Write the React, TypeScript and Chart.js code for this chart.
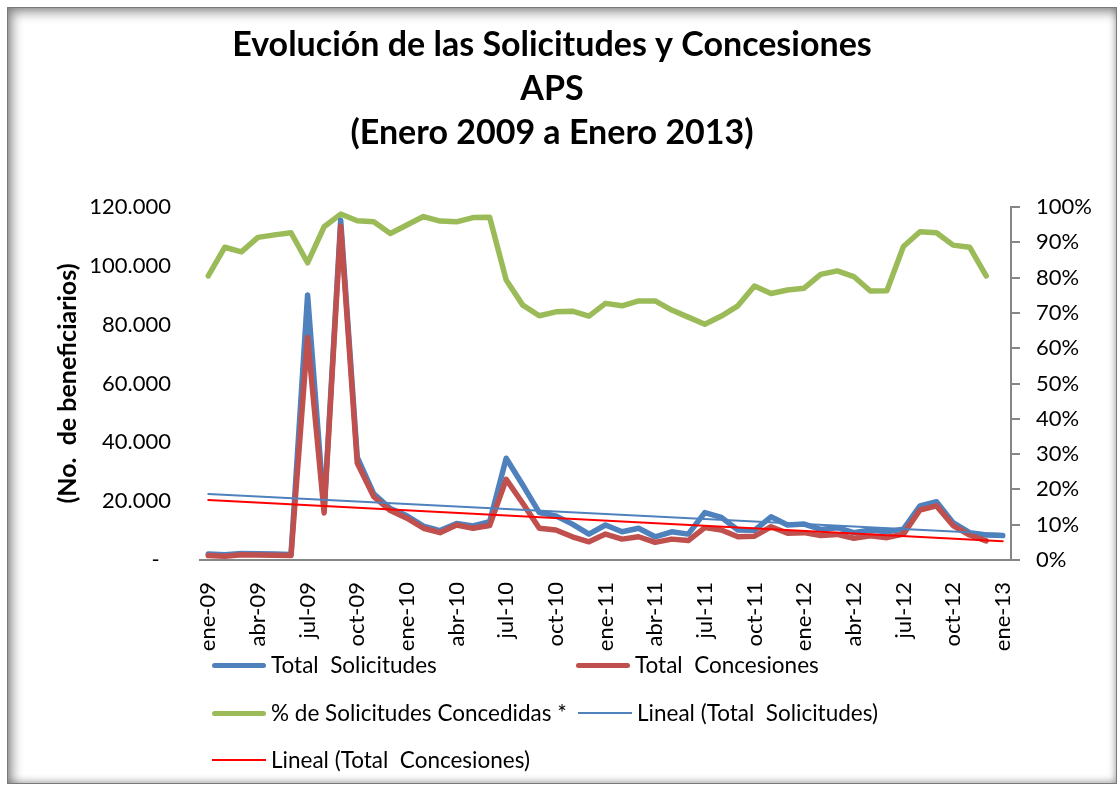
import React, { useEffect, useRef } from 'react';
import { Chart, registerables } from 'chart.js';

Chart.register(...registerables);

const categories = [
  'ene-09', 'feb-09', 'mar-09', 'abr-09', 'may-09', 'jun-09', 'jul-09', 'ago-09', 'sep-09', 'oct-09', 'nov-09', 'dic-09',
  'ene-10', 'feb-10', 'mar-10', 'abr-10', 'may-10', 'jun-10', 'jul-10', 'ago-10', 'sep-10', 'oct-10', 'nov-10', 'dic-10',
  'ene-11', 'feb-11', 'mar-11', 'abr-11', 'may-11', 'jun-11', 'jul-11', 'ago-11', 'sep-11', 'oct-11', 'nov-11', 'dic-11',
  'ene-12', 'feb-12', 'mar-12', 'abr-12', 'may-12', 'jun-12', 'jul-12', 'ago-12', 'sep-12', 'oct-12', 'nov-12', 'dic-12',
  'ene-13',
];

const totalSolicitudes = [
  2000, 1800, 2200, 2100, 2000, 1900, 90100, 17000, 115500, 35000, 22500, 17500,
  15000, 11500, 10000, 12400, 11600, 13000, 34600, 25500, 16100, 15000, 12200, 8800,
  11900, 9600, 10800, 7900, 9600, 8800, 16100, 14500, 10200, 10100, 14700, 11900,
  12200, 10400, 11000, 9300, 10200, 9600, 10500, 18400, 19800, 12700, 9300, 8500,
  8300,
];

const totalConcesiones = [
  1500, 1300, 1800, 1700, 1600, 1500, 75600, 16000, 113500, 33000, 21500, 16800,
  14200, 10800, 9300, 11900, 10800, 11700, 27400, 19300, 10800, 10200, 7900, 6200,
  8800, 7100, 7900, 6000, 7100, 6600, 11000, 10200, 7900, 8100, 11300, 9100,
  9300, 8300, 8700, 7400, 8200, 7600, 8800, 17000, 18400, 11700, 8500, 6500,
  null,
];

const porcentajeConcedidas = [
  80.5, 88.6, 87.3, 91.4, 92.1, 92.7, 84.2, 94.4, 98.0, 96.1, 95.8, 92.5,
  94.9, 97.3, 96.0, 95.8, 97.0, 97.1, 79.3, 72.2, 69.2, 70.3, 70.5, 69.1,
  72.7, 72.0, 73.4, 73.4, 70.8, 68.8, 66.8, 69.1, 72.0, 77.6, 75.5, 76.5,
  77.0, 80.9, 81.9, 80.3, 76.2, 76.3, 88.8, 93.0, 92.7, 89.2, 88.6, 80.5,
];

// Linear trend lines: start and end values
const trendSolicitudesEnds = [22400, 8800];
const trendConcesionesEnds = [20400, 6400];

const leftTicks = { min: 0, max: 120000, step: 20000 };
const rightTicks = { min: 0, max: 100, step: 10 };

const titleLines = ['Evolución de las Solicitudes y Concesiones', 'APS', '(Enero 2009 a Enero 2013)'];

const BLUE = '#4F81BD';
const RED = '#C0504D';
const GREEN = '#9BBB59';
const TREND_RED = '#FF0000';

function endsToSeries(ends: number[], n: number): (number | null)[] {
  const arr: (number | null)[] = new Array(n).fill(null);
  arr[0] = ends[0];
  arr[n - 1] = ends[1];
  return arr;
}

function fmtThousands(v: number): string {
  if (v === 0) return '-  ';
  return String(v).replace(/\B(?=(\d{3})+(?!\d))/g, '.');
}

const legendItems = [
  { label: 'Total  Solicitudes', color: BLUE, thick: true, left: 204, top: 657 },
  { label: 'Total  Concesiones', color: RED, thick: true, left: 568, top: 657 },
  { label: '% de Solicitudes Concedidas *', color: GREEN, thick: true, left: 204, top: 705 },
  { label: 'Lineal (Total  Solicitudes)', color: BLUE, thick: false, left: 570, top: 705 },
  { label: 'Lineal (Total  Concesiones)', color: TREND_RED, thick: false, left: 204, top: 752 },
];

export default function App() {
  const ref = useRef<HTMLCanvasElement>(null);

  useEffect(() => {
    Chart.defaults.font.family = 'Lato';
    Chart.defaults.color = '#000';
    const n = categories.length;
    const lineCommon = {
      pointRadius: 0,
      pointHoverRadius: 0,
      tension: 0,
      borderJoinStyle: 'round' as const,
      borderCapStyle: 'round' as const,
      fill: false,
    };
    const chart = new Chart(ref.current!, {
      type: 'line',
      data: {
        labels: categories,
        datasets: [
          { ...lineCommon, label: 'Total  Solicitudes', data: totalSolicitudes, borderColor: BLUE, backgroundColor: BLUE, borderWidth: 5.5, yAxisID: 'y', order: 4 },
          { ...lineCommon, label: 'Total  Concesiones', data: totalConcesiones, borderColor: RED, backgroundColor: RED, borderWidth: 5.5, yAxisID: 'y', order: 3 },
          { ...lineCommon, label: '% de Solicitudes Concedidas *', data: porcentajeConcedidas, borderColor: GREEN, backgroundColor: GREEN, borderWidth: 5.5, yAxisID: 'y1', order: 5 },
          { ...lineCommon, label: 'Lineal (Total  Solicitudes)', data: endsToSeries(trendSolicitudesEnds, n), borderColor: BLUE, backgroundColor: BLUE, borderWidth: 2, spanGaps: true, yAxisID: 'y', order: 2 },
          { ...lineCommon, label: 'Lineal (Total  Concesiones)', data: endsToSeries(trendConcesionesEnds, n), borderColor: TREND_RED, backgroundColor: TREND_RED, borderWidth: 2, spanGaps: true, yAxisID: 'y', order: 1 },
        ],
      },
      options: {
        animation: false,
        responsive: false,
        devicePixelRatio: 1,
        layout: { padding: { left: 0, right: 20, top: 0, bottom: 123 } },
        plugins: {
          legend: { display: false },
          tooltip: { enabled: false },
          title: {
            display: true,
            text: titleLines,
            color: '#000',
            font: { size: 34, weight: 'bold', lineHeight: 44 / 34 },
            padding: { top: 15, bottom: 52 },
          },
        },
        scales: {
          x: {
            type: 'category',
            offset: true,
            grid: { display: false },
            border: { display: true, color: '#868686', width: 2 },
            ticks: {
              autoSkip: false,
              minRotation: 90,
              maxRotation: 90,
              padding: 14,
              font: { size: 22 },
              color: '#000',
              callback: (_v: any, i: number) => (i % 3 === 0 ? categories[i] : ''),
            },
            afterFit: (s: any) => { s.height = 100; },
          },
          y: {
            position: 'left',
            min: leftTicks.min,
            max: leftTicks.max,
            grid: { display: false },
            border: { display: false },
            ticks: {
              stepSize: leftTicks.step,
              padding: 21,
              font: { size: 22 },
              color: '#000',
              callback: (v: any) => fmtThousands(Number(v)),
            },
            title: {
              display: true,
              text: '(No.  de beneficiarios)',
              color: '#000',
              font: { size: 25, weight: 'bold' },
              padding: { top: 45, bottom: 0 },
            },
            afterFit: (s: any) => { s.width = 192; },
          },
          y1: {
            position: 'right',
            min: rightTicks.min,
            max: rightTicks.max,
            grid: { display: true, drawOnChartArea: false, drawTicks: true, tickLength: 9, color: '#868686', lineWidth: 2 },
            border: { display: true, color: '#868686', width: 2 },
            ticks: {
              stepSize: rightTicks.step,
              padding: 16,
              font: { size: 22 },
              color: '#000',
              callback: (v: any) => `${v}%`,
            },
            afterFit: (s: any) => { s.width = 85; },
          },
        },
      },
    });
    return () => chart.destroy();
  }, []);

  return (
    <div
      style={{
        position: 'absolute',
        left: 7,
        top: 7,
        width: 1110,
        height: 777,
        boxSizing: 'border-box',
        border: '1px solid #7a7a7a',
        background: '#fff',
        boxShadow: 'inset 4px 4px 12px rgba(0,0,0,0.45), inset -1px -2px 6px rgba(0,0,0,0.2)',
        fontFamily: 'Lato, sans-serif',
      }}
    >
      <canvas ref={ref} width={1108} height={775} style={{ position: 'absolute', left: 0, top: 0, width: 1108, height: 775 }} />
      {legendItems.map((it) => (
        <div
          key={it.label}
          style={{ position: 'absolute', left: it.left, top: it.top - 14, height: 28, display: 'flex', alignItems: 'center' }}
        >
          <div style={{ width: 54, height: it.thick ? 5 : 2, background: it.color, borderRadius: it.thick ? 3 : 0 }} />
          <span style={{ marginLeft: 5, fontSize: 22.5, color: '#000', whiteSpace: 'pre', lineHeight: '28px' }}>{it.label}</span>
        </div>
      ))}
    </div>
  );
}
